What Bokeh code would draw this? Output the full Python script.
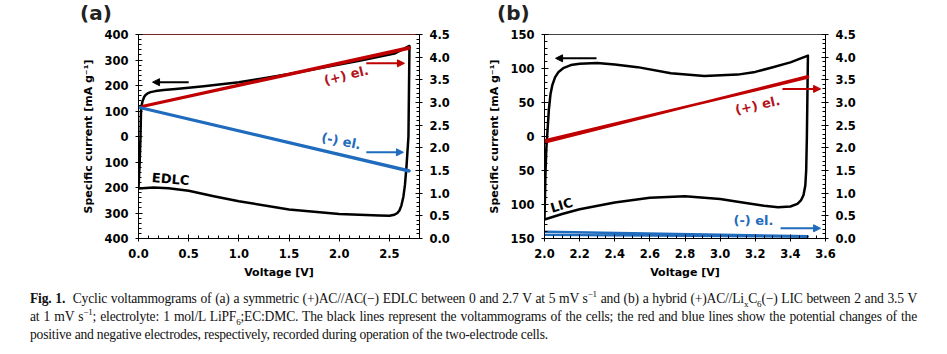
from bokeh.plotting import figure
from bokeh.models import (Range1d, LinearAxis, FixedTicker, Label, Arrow, NormalHead,
                          Div, CustomJSTickFormatter, PrintfTickFormatter)
from bokeh.layouts import row, column
from bokeh.embed import file_html
from bokeh.resources import INLINE

# ---------------- data: panel (a) EDLC ----------------
edlc_v = [0.000, 0.012, 0.020, 0.025, 0.030, 0.040, 0.056, 0.070, 0.090, 0.120, 0.170, 0.250, 0.370,
          0.500, 0.650, 1.000, 1.220, 1.500, 1.880, 2.200, 2.550, 2.700,
          2.690, 2.680, 2.670, 2.655, 2.640, 2.620, 2.600, 2.580, 2.550, 2.500, 2.400, 2.200,
          2.000, 1.500, 1.000, 0.750, 0.500, 0.300, 0.150, 0.000]
edlc_i = [-204, -100, 0, 100, 120, 138, 155, 163, 169, 174, 178, 182, 186,
          191, 197, 213, 227, 245, 273, 297, 325, 355,
          0, -60, -120, -190, -235, -270, -290, -300, -307, -311, -310, -307,
          -304, -286, -254, -234, -213, -203, -200, -204]
pos_a_v = [0.00, 2.70, 2.70, 0.00]
pos_a_e = [2.90, 4.22, 4.19, 2.89]
neg_a_v = [0.00, 2.70, 2.70, 0.00]
neg_a_e = [2.90, 1.50, 1.48, 2.89]

# ---------------- data: panel (b) LIC ----------------
lic_v = [2.000, 2.005, 2.010, 2.015, 2.025, 2.034, 2.045, 2.060, 2.080, 2.110, 2.150, 2.200, 2.300,
         2.400, 2.530, 2.720, 2.910, 3.100, 3.200, 3.290, 3.400, 3.500,
         3.497, 3.494, 3.490, 3.485, 3.475, 3.460, 3.440, 3.400, 3.330, 3.250, 3.100, 3.000,
         2.800, 2.600, 2.400, 2.200, 2.100, 2.000]
lic_i = [-122, -60, -20, 0, 40, 62, 76, 87, 95, 101, 105, 107, 108,
         106, 102, 93, 89, 91, 95, 101, 109, 119,
         60, 0, -50, -72, -86, -94, -99, -103, -104, -102, -96, -92,
         -88, -90, -97, -107, -114, -122]
pos_b_v = [2.00, 3.50, 3.50, 2.00]
pos_b_e = [2.12, 3.58, 3.55, 2.16]
neg_b_v = [2.00, 3.50, 3.50, 2.00]
neg_b_e = [0.15, 0.05, 0.04, 0.08]

# ---------------- ticks / labels ----------------
a_x_ticks = [0.0, 0.5, 1.0, 1.5, 2.0, 2.5]
a_y_ticks = [-400, -300, -200, -100, 0, 100, 200, 300, 400]
b_x_ticks = [2.0, 2.2, 2.4, 2.6, 2.8, 3.0, 3.2, 3.4, 3.6]
b_y_ticks = [-150, -100, -50, 0, 50, 100, 150]
pot_ticks = [0.0, 0.5, 1.0, 1.5, 2.0, 2.5, 3.0, 3.5, 4.0, 4.5]
panel_titles = ["(a)", "(b)"]

RED = "#c00000"
RED_TXT = "#b3141c"
BLUE = "#1f6bbd"
FONT = "DejaVu Sans"
X_LABEL = "Voltage [V]"
Y_LABEL = "Specific current [mA g\u207b\u00b9]"
Y2_LABEL = "Potential vs Li/Li\u207a [V]"


def frange(a, b, step):
    n = int(round((b - a) / step))
    return [round(a + k * step, 6) for k in range(n + 1)]


def style_axis(ax):
    ax.axis_line_color = "black"
    ax.axis_line_width = 1
    ax.major_tick_line_color = "black"
    ax.minor_tick_line_color = "black"
    ax.major_tick_in = 4
    ax.major_tick_out = 3
    ax.minor_tick_in = 3
    ax.minor_tick_out = 0
    ax.major_label_text_font = FONT
    ax.major_label_text_font_style = "bold"
    ax.major_label_text_font_size = "11.5px"
    ax.major_label_text_color = "black"
    ax.axis_label_text_font = FONT
    ax.axis_label_text_font_style = "bold"
    ax.axis_label_text_font_size = "11px"
    ax.axis_label_text_color = "black"
    ax.major_label_standoff = 7


def txt(p, x, y, text, size, color, angle=0.0):
    p.add_layout(Label(x=x, y=y, text=text, angle=angle, text_align="center",
                       text_baseline="middle", text_font=FONT, text_font_style="bold",
                       text_font_size=size, text_color=color))


def arrow(p, x0, x1, y, color):
    p.add_layout(Arrow(end=NormalHead(size=7, fill_color=color, line_color=color),
                       x_start=x0, y_start=y, x_end=x1, y_end=y,
                       line_color=color, line_width=2))


def make_panel(width, left, right, xr, yr, xticks, xminor, yticks, yminor, outline_color):
    p = figure(width=width, height=260, x_range=Range1d(*xr), y_range=Range1d(*yr),
               output_backend="svg", toolbar_location=None,
               min_border_left=left, min_border_right=right,
               min_border_top=6, min_border_bottom=50)
    p.extra_y_ranges = {"pot": Range1d(0, 4.5)}
    p.xgrid.visible = False
    p.ygrid.visible = False
    p.outline_line_color = outline_color
    p.outline_line_width = 1
    p.background_fill_color = "white"
    p.border_fill_color = "white"

    xa = p.xaxis[0]
    xa.ticker = FixedTicker(ticks=xticks, minor_ticks=xminor)
    xa.formatter = PrintfTickFormatter(format="%.1f")
    xa.axis_label = X_LABEL
    style_axis(xa)
    xa.axis_label_standoff = 5

    ya = p.yaxis[0]
    ya.ticker = FixedTicker(ticks=yticks, minor_ticks=yminor)
    ya.formatter = CustomJSTickFormatter(code="return Math.abs(tick).toString();")
    ya.axis_label = Y_LABEL
    style_axis(ya)
    ya.axis_label_standoff = 6

    ra = LinearAxis(y_range_name="pot",
                    ticker=FixedTicker(ticks=pot_ticks, minor_ticks=frange(0, 4.5, 0.1)),
                    formatter=PrintfTickFormatter(format="%.1f"))
    style_axis(ra)
    p.add_layout(ra, "right")
    return p


# ---------------- panel (a) ----------------
pa = make_panel(480, 138, 61, (0, 2.8), (-400, 400), a_x_ticks, frange(0, 2.8, 0.1),
                a_y_ticks, frange(-400, 400, 20), "#7a2323")
pa.line(edlc_v, edlc_i, line_color="black", line_width=2.5, line_join="round")
pa.line(pos_a_v, pos_a_e, y_range_name="pot", line_color=RED, line_width=2.6)
pa.line(neg_a_v, neg_a_e, y_range_name="pot", line_color=BLUE, line_width=2.6)

arrow(pa, 0.50, 0.14, 213, "black")
arrow(pa, 2.27, 2.65, 287, RED)
arrow(pa, 2.27, 2.64, -62, BLUE)
txt(pa, 2.07, 240, "(+) el.", "13px", RED_TXT, 0.24)
txt(pa, 2.02, -18, "(-) el.", "13px", BLUE, -0.2)
txt(pa, 0.32, -167, "EDLC", "13px", "black", -0.08)
txt(pa, 3.228, 0, Y2_LABEL, "11px", "black", 1.5708)

# ---------------- panel (b) ----------------
pb = make_panel(467, 64, 122, (2.0, 3.6), (-150, 150), b_x_ticks, frange(2.0, 3.6, 0.05),
                b_y_ticks, frange(-150, 150, 10), "#444444")
pb.line(lic_v, lic_i, line_color="black", line_width=2.5, line_join="round")
pb.line(pos_b_v, pos_b_e, y_range_name="pot", line_color=RED, line_width=2.6)
pb.line(neg_b_v, neg_b_e, y_range_name="pot", line_color=BLUE, line_width=2.4)

arrow(pb, 2.296, 2.063, 115, "black")
arrow(pb, 3.355, 3.572, 70, RED)
arrow(pb, 3.344, 3.572, -135, BLUE)
txt(pb, 3.213, 46, "(+) el.", "13px", RED_TXT, 0.22)
txt(pb, 3.19, -123, "(-) el.", "13px", BLUE, 0.0)
txt(pb, 2.097, -101, "LIC", "13px", "black", 0.28)
txt(pb, 3.839, 0, Y2_LABEL, "11px", "black", 1.5708)

# ---------------- panel letters (header) ----------------
head_css = ("position:absolute;top:1px;font-family:'DejaVu Sans',sans-serif;font-weight:bold;"
            "font-size:20px;line-height:24px;color:#222;")
head_html = (f"<div style=\"position:relative;width:947px;height:28px;\">"
             f"<span style=\"{head_css}left:80px;\">{panel_titles[0]}</span>"
             f"<span style=\"{head_css}left:497px;\">{panel_titles[1]}</span></div>")
head = Div(text=head_html, width=947, height=28, margin=(0, 0, 0, 0))

# ---------------- caption ----------------
SUP = "<sup style='line-height:0;font-size:9px;'>"
SUB = "<sub style='line-height:0;font-size:9px;'>"
caption_lines = [
    "<b>Fig. 1.</b>&nbsp; Cyclic voltammograms of (a) a symmetric (+)AC//AC(\u2212) EDLC between 0 and 2.7 V "
    f"at 5 mV s{SUP}\u22121</sup> and (b) a hybrid (+)AC//Li{SUB}x</sub>C{SUB}6</sub>(\u2212) LIC between 2 and 3.5 V",
    f"at 1 mV s{SUP}\u22121</sup>; electrolyte: 1 mol/L LiPF{SUB}6</sub>;EC:DMC. The black lines represent the "
    "voltammograms of the cells; the red and blue lines show the potential changes of the",
    "positive and negative electrodes, respectively, recorded during operation of the two-electrode cells.",
]
line_css = ("white-space:nowrap;width:887px;height:18px;line-height:18px;overflow:visible;"
            "font-family:'Liberation Serif',serif;font-size:13.6px;letter-spacing:-0.2px;color:#111;")
html = ""
for k, t in enumerate(caption_lines):
    just = "text-align:justify;text-align-last:justify;" if k < 2 else "text-align:left;"
    html += f"<div style=\"{line_css}{just}\">{t}</div>"
cap = Div(text=html, width=887, height=62, margin=(2, 0, 0, 30))

layout = column(head, row(pa, pb, spacing=0), cap, spacing=0)
open("out.html", "w").write(file_html(layout, INLINE))
